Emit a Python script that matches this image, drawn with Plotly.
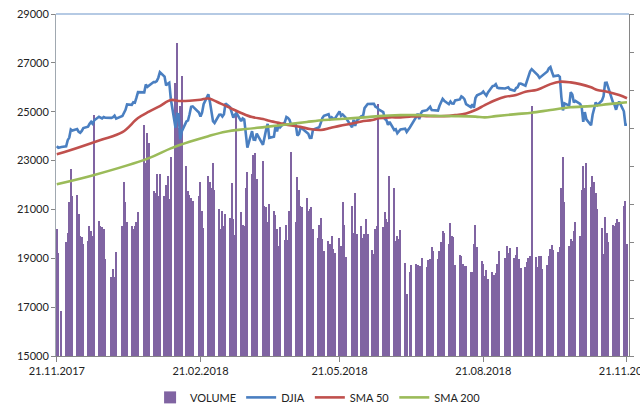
import pandas as pd
import plotly.graph_objects as go

# ---- trading calendar (NYSE, 21.11.2017 - 21.11.2018) ----
holidays = ["2017-11-23", "2017-12-25", "2018-01-01", "2018-01-15", "2018-02-19",
            "2018-03-30", "2018-05-28", "2018-07-04", "2018-09-03"]
trading_days = [d for d in pd.bdate_range("2017-11-21", "2018-11-21")
                if d.strftime("%Y-%m-%d") not in holidays]

# ---- DJIA close (monthly blocks) ----
djia = [
    # Nov 2017
    23590, 23526, 23558, 23580, 23836, 23940, 24272,
    # Dec 2017
    24231, 24290, 24180, 24140, 24211, 24329, 24387, 24504, 24585, 24509,
    24651, 24792, 24754, 24726, 24782, 24754, 24746, 24774, 24838, 24719,
    # Jan 2018
    24824, 24922, 25075, 25296, 25283, 25386, 25369, 25575, 25803, 25793,
    26116, 26017, 26072, 26214, 26211, 26252, 26393, 26617, 26440, 26077, 26149,
    # Feb
    26187, 25521, 24346, 24913, 24893, 23861, 24191, 24601, 24640, 24893,
    25201, 25219, 24965, 24798, 24963, 25310, 25710, 25411, 25029,
    # Mar
    24609, 24538, 24875, 24884, 24801, 24895, 25336, 25179, 25008, 24759,
    24874, 24947, 24611, 24728, 24683, 23958, 23534, 24202, 23857, 23849, 24103,
    # Apr
    23644, 24034, 24265, 24505, 23933, 23979, 24408, 24190, 24484, 24361,
    24574, 24787, 24748, 24665, 24463, 24449, 24025, 24084, 24323, 24311, 24163,
    # May
    24100, 23925, 23930, 24263, 24357, 24361, 24543, 24740, 24831, 24900,
    24707, 24769, 24714, 24715, 25013, 24835, 24887, 24812, 24753, 24362, 24668, 24416,
    # Jun
    24635, 24814, 24800, 25146, 25241, 25317, 25322, 25320, 25201, 25175,
    25090, 24988, 24701, 24657, 24462, 24581, 24253, 24284, 24117, 24216, 24271,
    # Jul
    24307, 24175, 24357, 24456, 24777, 24920, 24700, 24925, 25019, 25064,
    25120, 25199, 25065, 25058, 25044, 25242, 25415, 25528, 25451, 25307, 25415,
    # Aug
    25333, 25327, 25463, 25502, 25629, 25584, 25509, 25313, 25188, 25300,
    25162, 25559, 25669, 25759, 25823, 25733, 25657, 25790, 26050, 26065,
    26124, 25987, 25965,
    # Sep
    25953, 25975, 25996, 25917, 25857, 25971, 25999, 26145, 26155, 26062,
    26247, 26405, 26657, 26744, 26562, 26492, 26385, 26440, 26458,
    # Oct
    26651, 26774, 26828, 26627, 26447, 26487, 26431, 25599, 25053, 25340,
    25251, 25798, 25707, 25380, 25445, 25317, 25191, 24583, 24985, 24689,
    24443, 24875, 25116,
    # Nov 2018
    25380, 25271, 25462, 25636, 26181, 26192, 25989, 25388, 25287, 25081,
    25290, 25414, 25018, 24466, 24465,
]

# ---- volume (millions, right axis) ----
volume = [
    # Nov 2017
    333, 270, 118, 299, 323, 404, 491,
    # Dec 2017
    420, 425, 373, 315, 312, 294, 302, 341, 328, 315,
    635, 354, 341, 340, 333, 255, 207, 228, 207, 273,
    # Jan 2018
    341, 457, 404, 352, 341, 333, 341, 352, 378, 609,
    509, 588, 560, 433, 430, 480, 420, 478, 422, 451, 475,
    # Feb
    412, 525, 719, 824, 600, 659, 738, 499, 433, 425,
    417, 407, 422, 457, 381, 336, 473, 459, 441,
    # Mar
    509, 438, 386, 333, 381, 341, 373, 362, 454, 360,
    318, 640, 378, 346, 341, 441, 483, 480, 528, 533, 465,
    # Apr
    512, 394, 391, 352, 399, 381, 370, 333, 289, 339,
    304, 344, 304, 381, 538, 352, 470, 438, 394, 391, 417,
    # May
    381, 386, 391, 333, 310, 346, 362, 307, 276, 302,
    294, 315, 281, 270, 310, 289, 404, 346, 260, 396, 325, 430,
    # Jun
    320, 341, 310, 320, 360, 320, 278, 268, 333, 341,
    662, 339, 378, 360, 352, 475, 441, 302, 315, 307, 331,
    # Jul
    244, 163, 220, 239, 241, 239, 236, 236, 257, 234,
    252, 255, 286, 276, 255, 276, 299, 328, 325, 294, 349,
    # Aug
    315, 312, 239, 265, 263, 241, 236, 236, 220, 220,
    294, 344, 286, 249, 241, 210, 226, 202, 220, 213,
    218, 241, 276,
    # Sep
    257, 289, 270, 283, 257, 265, 286, 255, 231, 234,
    247, 257, 263, 659, 260, 234, 263, 263, 228,
    # Oct
    239, 263, 281, 291, 278, 273, 286, 441, 525, 404,
    289, 307, 302, 328, 352, 315, 438, 499, 441, 507,
    444, 473, 457,
    # Nov 2018
    430, 386, 336, 268, 365, 325, 299, 346, 341, 350,
    360, 352, 394, 407, 294,
]

# ---- moving averages (read at points) ----
sma50_dates = ["2017-11-21", "2017-11-30", "2017-12-19", "2018-01-02", "2018-01-12",
               "2018-01-19", "2018-01-26", "2018-02-02", "2018-02-08", "2018-02-14",
               "2018-02-21", "2018-02-26", "2018-03-06", "2018-03-12", "2018-03-19",
               "2018-03-26", "2018-04-02", "2018-04-06", "2018-04-13", "2018-04-19",
               "2018-04-26", "2018-05-02", "2018-05-09", "2018-05-15", "2018-05-21",
               "2018-05-29", "2018-06-04", "2018-06-11", "2018-06-15", "2018-06-22",
               "2018-06-29", "2018-07-05", "2018-07-11", "2018-07-18", "2018-07-27",
               "2018-08-03", "2018-08-10", "2018-08-16", "2018-08-22", "2018-08-29",
               "2018-09-04", "2018-09-11", "2018-09-17", "2018-09-24", "2018-09-27",
               "2018-10-03", "2018-10-09", "2018-10-16", "2018-10-22", "2018-10-29",
               "2018-11-02", "2018-11-09", "2018-11-16", "2018-11-21"]
sma50 = [23260, 23430, 23840, 24160, 24740,
         25000, 25230, 25480, 25440, 25450,
         25490, 25540, 25330, 25150, 24950,
         24780, 24700, 24630, 24530, 24450,
         24380, 24290, 24250, 24330, 24420,
         24520, 24600, 24660, 24730, 24770,
         24770, 24800, 24820, 24820, 24820,
         24860, 24930, 25070, 25270, 25480,
         25610, 25680, 25820, 25890, 25960,
         26130, 26230, 26200, 26130, 26000,
         25890, 25810, 25680, 25550]

sma200_dates = ["2017-11-21", "2017-12-15", "2018-01-19", "2018-02-02", "2018-02-14",
                "2018-02-26", "2018-03-09", "2018-03-22", "2018-04-04", "2018-04-17",
                "2018-04-30", "2018-05-11", "2018-05-24", "2018-06-08", "2018-06-15",
                "2018-06-29", "2018-07-11", "2018-07-20", "2018-08-03", "2018-08-16",
                "2018-08-22", "2018-08-29", "2018-09-11", "2018-09-21", "2018-10-03",
                "2018-10-16", "2018-10-29", "2018-11-09", "2018-11-21"]
sma200 = [22030, 22410, 23100, 23500, 23770,
          24000, 24180, 24290, 24380, 24480,
          24580, 24660, 24710, 24780, 24820,
          24860, 24860, 24830, 24820, 24800,
          24770, 24820, 24900, 24960, 25070,
          25180, 25230, 25310, 25390]

tick_dates = ["2017-11-21", "2018-02-21", "2018-05-21", "2018-08-21", "2018-11-21"]
tick_labels = ["21.11.2017", "21.02.2018", "21.05.2018", "21.08.2018", "21.11.2018"]
djia_ticks = [15000, 17000, 19000, 21000, 23000, 25000, 27000, 29000]

n = min(len(trading_days), len(djia), len(volume))
dates = trading_days[:n]

FONT = "Lato"
fig = go.Figure()
fig.add_trace(go.Bar(x=dates, y=volume[:n], name="VOLUME", marker_color="#8064A2",
                     marker_line_width=0, width=0.82 * 86400000, yaxis="y"))
fig.add_trace(go.Scatter(x=dates, y=djia[:n], name="DJIA", mode="lines",
                         line=dict(color="#4A7FC1", width=2.6), yaxis="y2"))
fig.add_trace(go.Scatter(x=sma50_dates, y=sma50, name="SMA 50", mode="lines",
                         line=dict(color="#C0504D", width=2.6, shape="spline"), yaxis="y2"))
fig.add_trace(go.Scatter(x=sma200_dates, y=sma200, name="SMA 200", mode="lines",
                         line=dict(color="#9BBB59", width=2.6, shape="spline"), yaxis="y2"))

fig.update_layout(
    width=640, height=408,
    margin=dict(l=56, r=11, t=14, b=52),
    paper_bgcolor="white", plot_bgcolor="white",
    font=dict(family=FONT, size=11, color="#222222"),
    showlegend=True,
    legend=dict(orientation="h", xref="container", yref="container",
                x=0.497, xanchor="center", y=0.026, yanchor="middle",
                font=dict(family=FONT, size=11, color="#222222"),
                itemwidth=30, tracegroupgap=0),
    xaxis=dict(type="date", range=["2017-11-20 12:00", "2018-11-22 07:00"],
               tickvals=tick_dates, ticktext=tick_labels, automargin=False,
               ticklabeloverflow="allow",
               showgrid=False, showline=True, linecolor="#868686", linewidth=1,
               ticks="outside", ticklen=5, tickcolor="#868686", zeroline=False,
               tickfont=dict(family=FONT, size=11, color="#222222")),
    yaxis=dict(side="right", range=[0, 900], dtick=100, showticklabels=False,
               showgrid=False, showline=True, linecolor="#868686", linewidth=1,
               automargin=False,
               ticks="outside", ticklen=4, tickcolor="#868686", zeroline=False),
    yaxis2=dict(overlaying="y", side="left", range=[15000, 29000],
                tickvals=djia_ticks, ticktext=[str(v) for v in djia_ticks],
                automargin=False,
                showgrid=False, showline=True, linecolor="#A0A8B0", linewidth=1,
                ticks="outside", ticklen=4, tickcolor="#868686", zeroline=False,
                tickfont=dict(family=FONT, size=11, color="#222222")),
    bargap=0,
    shapes=[dict(type="line", xref="paper", yref="paper", x0=0, x1=1, y0=1, y1=1,
                 line=dict(color="#9DB9DB", width=1.5))],
)

fig.write_html("out.html", config={"displayModeBar": False},
               post_script="document.body.style.margin='0';document.body.style.overflow='hidden';")
